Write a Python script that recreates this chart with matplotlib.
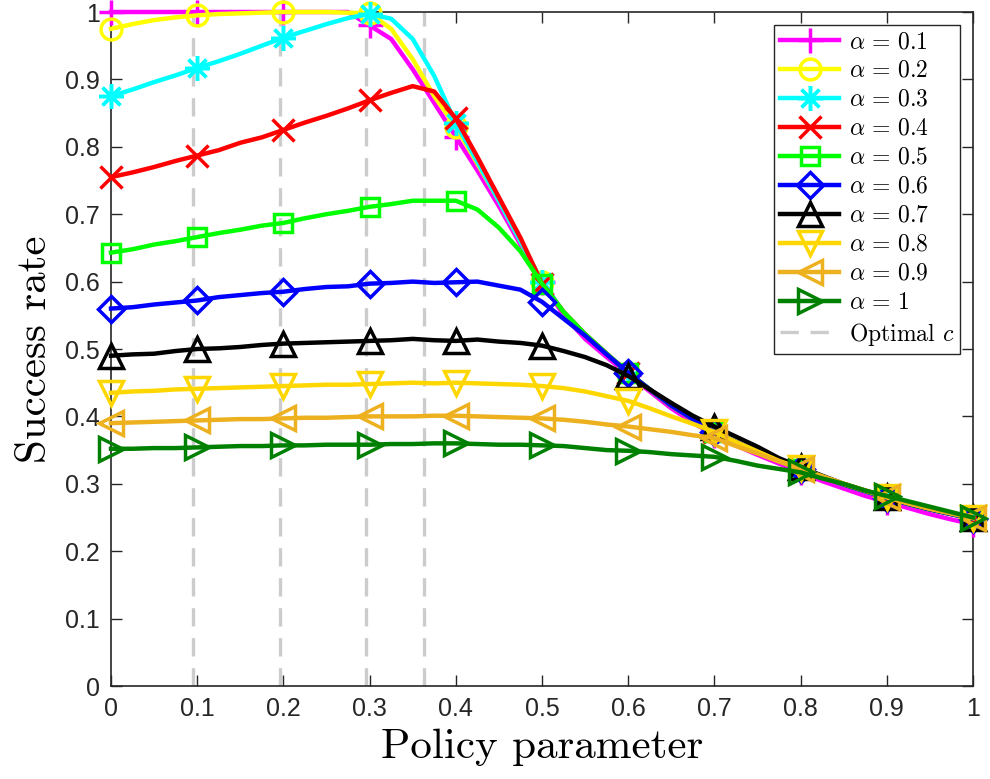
import numpy as np
import matplotlib
matplotlib.use('Agg')
import matplotlib.pyplot as plt

plt.rcParams['mathtext.fontset'] = 'cm'

# policy parameter grid (step 0.025), markers every 0.1
x = np.linspace(0, 1, 41)

tail = [0.555, 0.522, 0.493, 0.465, 0.440, 0.416, 0.396, 0.377, 0.362, 0.348,
        0.334, 0.322, 0.310, 0.299, 0.289, 0.279, 0.270, 0.262, 0.255, 0.248]

a01 = [1.0, 1.0, 1.0, 1.0, 1.0, 1.0, 1.0, 1.0, 1.0, 1.0,
       1.0, 1.0, 0.980, 0.960, 0.915, 0.865, 0.815, 0.765, 0.712, 0.655,
       0.600, 0.550, 0.515, 0.488, 0.462, 0.437, 0.412, 0.391, 0.372, 0.357,
       0.343, 0.330, 0.317, 0.304, 0.293, 0.282, 0.273, 0.264, 0.255, 0.247, 0.240]
a02 = [0.975, 0.982, 0.988, 0.992, 0.995, 0.997, 0.998, 0.999, 1.0, 1.0,
       1.0, 0.999, 0.998, 0.975, 0.930, 0.875, 0.830, 0.775, 0.720, 0.660,
       0.600] + tail
a03 = [0.875, 0.885, 0.896, 0.906, 0.917, 0.927, 0.938, 0.950, 0.962, 0.972,
       0.982, 0.991, 0.997, 0.990, 0.960, 0.905, 0.835, 0.778, 0.720, 0.660,
       0.600] + tail
a04 = [0.755, 0.762, 0.770, 0.779, 0.787, 0.795, 0.806, 0.814, 0.825, 0.836,
       0.846, 0.857, 0.869, 0.880, 0.890, 0.882, 0.842, 0.785, 0.725, 0.665,
       0.597] + tail
a05 = [0.643, 0.648, 0.655, 0.660, 0.666, 0.672, 0.677, 0.683, 0.687, 0.694,
       0.700, 0.705, 0.711, 0.715, 0.720, 0.720, 0.720, 0.707, 0.680, 0.645,
       0.597] + tail
a06 = [0.560, 0.562, 0.566, 0.569, 0.572, 0.577, 0.580, 0.583, 0.585, 0.589,
       0.592, 0.593, 0.597, 0.598, 0.600, 0.598, 0.599, 0.600, 0.594, 0.588,
       0.570, 0.545, 0.520, 0.492, 0.465, 0.440, 0.416, 0.396, 0.377, 0.362,
       0.348, 0.334, 0.322, 0.310, 0.299, 0.289, 0.279, 0.270, 0.262, 0.255, 0.248]
a07 = [0.490, 0.492, 0.493, 0.497, 0.500, 0.501, 0.503, 0.506, 0.508, 0.509,
       0.510, 0.511, 0.512, 0.513, 0.515, 0.513, 0.512, 0.514, 0.511, 0.509,
       0.505, 0.497, 0.488, 0.476, 0.460, 0.440, 0.420, 0.401, 0.385, 0.370,
       0.355, 0.338, 0.325, 0.312, 0.300, 0.290, 0.280, 0.271, 0.263, 0.256, 0.249]
a08 = [0.435, 0.437, 0.438, 0.440, 0.441, 0.442, 0.443, 0.444, 0.445, 0.446,
       0.447, 0.447, 0.448, 0.449, 0.450, 0.449, 0.450, 0.449, 0.448, 0.447,
       0.445, 0.442, 0.437, 0.430, 0.423, 0.412, 0.400, 0.389, 0.377, 0.362,
       0.348, 0.334, 0.323, 0.311, 0.300, 0.290, 0.280, 0.271, 0.263, 0.256, 0.249]
a09 = [0.390, 0.391, 0.392, 0.393, 0.394, 0.395, 0.396, 0.396, 0.397, 0.398,
       0.398, 0.399, 0.400, 0.400, 0.400, 0.401, 0.401, 0.400, 0.399, 0.398,
       0.397, 0.395, 0.392, 0.388, 0.385, 0.381, 0.377, 0.372, 0.368, 0.356,
       0.345, 0.333, 0.322, 0.311, 0.300, 0.290, 0.280, 0.271, 0.263, 0.256, 0.249]
a10 = [0.352, 0.352, 0.353, 0.353, 0.354, 0.355, 0.356, 0.356, 0.357, 0.357,
       0.358, 0.358, 0.358, 0.359, 0.359, 0.360, 0.360, 0.359, 0.358, 0.358,
       0.357, 0.356, 0.353, 0.350, 0.349, 0.347, 0.344, 0.342, 0.340, 0.334,
       0.327, 0.322, 0.317, 0.308, 0.300, 0.290, 0.282, 0.274, 0.266, 0.258, 0.250]

series = [a01, a02, a03, a04, a05, a06, a07, a08, a09, a10]
labels = [r'$\alpha\,=\,0.1$', r'$\alpha\,=\,0.2$', r'$\alpha\,=\,0.3$', r'$\alpha\,=\,0.4$',
          r'$\alpha\,=\,0.5$', r'$\alpha\,=\,0.6$', r'$\alpha\,=\,0.7$', r'$\alpha\,=\,0.8$',
          r'$\alpha\,=\,0.9$', r'$\alpha\,=\,1$']
colors = ['#FF00FF', '#FFFF00', '#00FFFF', '#FF0000', '#00FF00', '#0000FF',
          '#000000', '#FFD700', '#EDB120', '#008000']
markers = ['+', 'o', (8, 2, 0), 'x', 's', 'D', '^', 'v', '<', '>']
msizes = [18, 15, 18, 16, 13, 13, 17, 17, 17, 17]

# optimal c per alpha (only the distinct values are visible)
optimal_c = [0.095, 0.196, 0.296, 0.363]

fig = plt.figure(figsize=(9.9, 7.79), dpi=100)
ax = fig.add_axes([111 / 990, 1 - 686 / 779, 862 / 990, 674 / 779])

for i, c in enumerate(optimal_c):
    ax.plot([c, c], [0, 1], color=(0.8, 0.8, 0.8), lw=2.4, dashes=(5.5, 3.5),
            zorder=1, label='Optimal $c$' if i == 0 else None)

for y, lab, col, m, ms in zip(series, labels, colors, markers, msizes):
    ax.plot(x, y, color=col, lw=3.2, marker=m, markevery=4, ms=ms, mew=2.5,
            mfc='none', mec=col, label=lab, clip_on=False, zorder=3)

ax.set_xlim(0, 1)
ax.set_ylim(0, 1)
ticks = np.round(np.arange(0, 1.01, 0.1), 1)
ticklabels = ['0', '0.1', '0.2', '0.3', '0.4', '0.5', '0.6', '0.7', '0.8', '0.9', '1']
ax.set_xticks(ticks)
ax.set_yticks(ticks)
ax.set_xticklabels(ticklabels, family='Liberation Sans', fontsize=18)
ax.set_yticklabels(ticklabels, family='Liberation Sans', fontsize=18)
ax.tick_params(direction='in', length=8, width=1, top=True, right=True,
               colors=(0.15, 0.15, 0.15), pad=8)
for s in ax.spines.values():
    s.set_color((0.15, 0.15, 0.15))
    s.set_linewidth(1.2)

ax.set_xlabel('Policy parameter', family='cmr10', fontsize=31, labelpad=5)
ax.set_ylabel('Success rate', family='cmr10', fontsize=31, labelpad=8)

# legend: alpha entries first, then the dashed line
h, l = ax.get_legend_handles_labels()
h = h[1:] + h[:1]
l = l[1:] + l[:1]
leg = ax.legend(h, l, loc='upper right', prop={'family': 'cmr10', 'size': 17},
                frameon=True, fancybox=False, framealpha=1, edgecolor=(0.15, 0.15, 0.15),
                handlelength=2.5, labelspacing=0.29, borderpad=0.25,
                handletextpad=0.4, borderaxespad=0.55)
leg.get_frame().set_linewidth(1.0)

fig.savefig('out.png', dpi=100)
